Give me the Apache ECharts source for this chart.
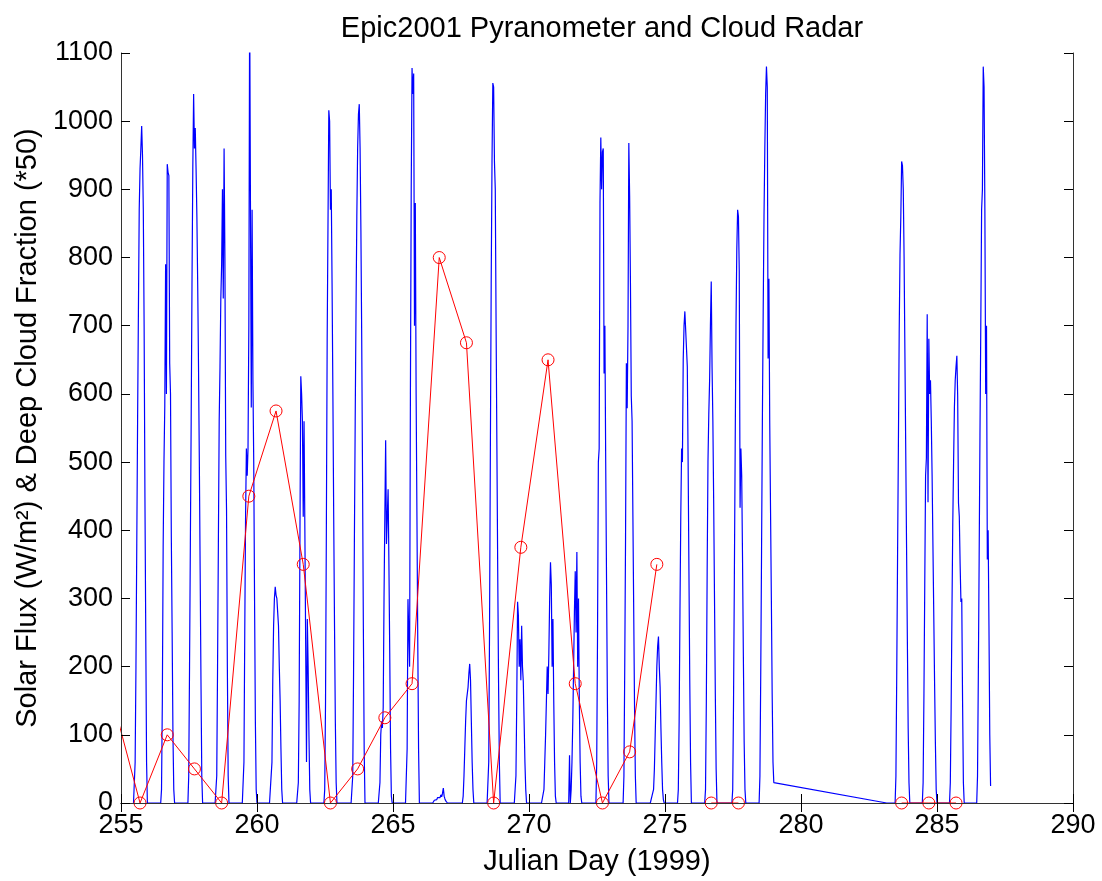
<!DOCTYPE html>
<html>
<head>
<meta charset="utf-8">
<title>Epic2001 Pyranometer and Cloud Radar</title>
<script src="https://cdn.jsdelivr.net/npm/echarts@6/dist/echarts.min.js"></script>
<style>
  html, body { margin: 0; padding: 0; background: #fff; }
  #chart { width: 1102px; height: 881px; }
</style>
</head>
<body>
<div id="chart"></div>
<script>
// axis ticks
const xTicks = [255, 260, 265, 270, 275, 280, 285, 290];
const yTicks = [0, 100, 200, 300, 400, 500, 600, 700, 800, 900, 1000, 1100];

// pyranometer: time of each sample within a day (fraction of the julian day)
const sampleOffsets = [0.46, 0.49, 0.52, 0.55, 0.58, 0.61, 0.64, 0.67, 0.70, 0.73,
  0.76, 0.79, 0.82, 0.85, 0.88, 0.91, 0.94, 0.97, 1.00];

const fluxDays = [255, 256, 257, 258, 259, 260, 261, 262, 263, 264, 265, 266, 267, 268,
  269, 270, 271, 272, 273, 274, 275, 276, 277, 278, 283, 284, 285, 286];

// solar flux W/m2, one row per day
const fluxRows = [
  [0, 0, 60, 200, 380, 560, 720, 870, 930, 960, 993, 950, 870, 700, 448, 250, 60, 0, 0],
  [0, 20, 150, 375, 500, 583, 790, 600, 937, 925, 920, 645, 600, 390, 250, 100, 20, 0, 0],
  [0, 40, 200, 380, 560, 760, 930, 1040, 960, 990, 930, 860, 760, 640, 500, 340, 180, 40, 0],
  [0, 0, 40, 200, 380, 560, 640, 740, 790, 900, 740, 960, 800, 510, 430, 200, 40, 0, 0],
  [0, 0, 60, 250, 420, 520, 480, 520, 700, 1180, 870, 580, 870, 620, 500, 300, 120, 20, 0],
  [0, 0, 0, 60, 180, 260, 300, 317, 305, 300, 280, 260, 200, 150, 80, 20, 0, 0, 0],
  [0, 0, 30, 150, 400, 626, 600, 560, 420, 560, 400, 230, 60, 270, 200, 100, 20, 0, 0],
  [0, 20, 150, 400, 680, 680, 1016, 1000, 870, 900, 760, 600, 420, 260, 120, 30, 0, 0, 0],
  [0, 0, 40, 190, 380, 560, 720, 860, 960, 1010, 1025, 960, 840, 680, 480, 260, 80, 0, 0],
  [0, 0, 30, 100, 120, 110, 140, 300, 420, 532, 380, 420, 460, 350, 220, 80, 10, 0, 0],
  [0, 0, 80, 299, 250, 200, 600, 900, 1078, 1040, 1070, 700, 880, 600, 420, 240, 80, 0, 0],
  [0, 2, 4, 3, 6, 5, 8, 6, 10, 8, 12, 9, 14, 22, 10, 6, 3, 1, 0],
  [0, 0, 0, 0, 10, 40, 80, 120, 150, 149, 170, 190, 204, 180, 120, 60, 20, 0, 0],
  [0, 0, 60, 260, 520, 760, 940, 1056, 1050, 940, 900, 700, 520, 340, 180, 60, 0, 0, 0],
  [0, 0, 40, 150, 295, 275, 200, 240, 180, 260, 200, 178, 120, 60, 20, 0, 0, 0, 0],
  [0, 0, 0, 20, 60, 100, 150, 200, 160, 220, 300, 353, 320, 200, 270, 150, 60, 10, 0],
  [0, 70, 0, 20, 60, 120, 200, 280, 340, 250, 368, 200, 300, 150, 60, 10, 0, 0, 0],
  [0, 60, 250, 500, 520, 880, 976, 900, 955, 960, 630, 700, 500, 330, 160, 40, 0, 0, 0],
  [0, 40, 200, 390, 645, 579, 700, 968, 890, 760, 597, 560, 420, 280, 140, 40, 0, 0, 0],
  [0, 0, 10, 8, 20, 50, 100, 150, 200, 230, 244, 200, 170, 110, 60, 20, 5, 0, 0],
  [0, 20, 120, 280, 420, 520, 500, 650, 700, 721, 720, 721, 640, 500, 340, 180, 60, 0, 0],
  [0, 20, 150, 340, 500, 570, 620, 700, 765, 640, 560, 440, 300, 160, 50, 0, 0, 0, 0],
  [0, 20, 150, 330, 520, 700, 812, 870, 860, 780, 433, 520, 480, 360, 220, 90, 20, 0, 0],
  [0, 40, 190, 370, 560, 720, 860, 960, 1040, 1080, 1050, 652, 769, 560, 430, 300, 160, 60, 30],
  [0, 40, 190, 360, 520, 689, 804, 860, 941, 935, 900, 800, 660, 520, 380, 240, 110, 30, 0],
  [0, 30, 160, 320, 480, 506, 717, 441, 681, 600, 620, 560, 480, 380, 280, 180, 90, 20, 0],
  [0, 30, 140, 280, 410, 500, 580, 620, 640, 656, 597, 440, 420, 350, 295, 300, 150, 30, 0],
  [0, 40, 190, 360, 540, 700, 870, 900, 1080, 1050, 870, 600, 700, 357, 400, 260, 100, 25, null]
];

// end of the data gap after day 278
const gapPoints = [[283.15, 0]];

// deep cloud fraction (*50), one value per day
const cloudDays = [254.7, 255.7, 256.7, 257.7, 258.7, 259.7, 260.7, 261.7, 262.7, 263.7,
  264.7, 265.7, 266.7, 267.7, 268.7, 269.7, 270.7, 271.7, 272.7, 273.7, 274.7, 275.7,
  276.7, 277.7, 278.7, 279.7, 280.7, 281.7, 282.7, 283.7, 284.7, 285.7];
const cloudValues = [150, 0, 100, 50, 0, 450, 575, 350, 0, 50,
  125, 175, 800, 675, 0, 375, 650, 175, 0, 75, 350, null,
  0, 0, null, null, null, null, null, 0, 0, 0];

const FONT = "'Liberation Sans', Arial, Helvetica, sans-serif";

function buildFlux() {
  const pts = [];
  fluxDays.forEach((day, i) => {
    fluxRows[i].forEach((v, k) => {
      if (v === null) return;
      pts.push([+(day + sampleOffsets[k]).toFixed(2), v]);
    });
    if (day === 278) pts.push(...gapPoints);
  });
  return pts;
}

function buildCloud() {
  return cloudDays.map((d, i) => [d, cloudValues[i] === null ? '-' : cloudValues[i]]);
}

const chart = echarts.init(document.getElementById('chart'), null, { renderer: 'canvas' });

const tickStyle = { inside: true, length: 9, lineStyle: { color: '#000', width: 1 } };
const lineStyleAxis = { show: true, lineStyle: { color: '#333', width: 1 } };

const xMin = xTicks[0], xMax = xTicks[xTicks.length - 1], xStep = xTicks[1] - xTicks[0];
const yMin = yTicks[0], yMax = yTicks[yTicks.length - 1], yStep = yTicks[1] - yTicks[0];

const option = {
  animation: false,
  backgroundColor: '#fff',
  title: {
    text: 'Epic2001 Pyranometer and Cloud Radar',
    left: 597,
    top: 9,
    textAlign: 'center',
    textStyle: { fontFamily: FONT, fontSize: 29, fontWeight: 'normal', color: '#000' }
  },
  grid: { left: 121, right: 29, top: 53, bottom: 78, outerBoundsMode: 'none' },
  xAxis: [
    {
      type: 'value', position: 'bottom', min: xMin, max: xMax, interval: xStep, z: 5,
      axisLine: lineStyleAxis, axisTick: tickStyle, splitLine: { show: false },
      axisLabel: { fontFamily: FONT, fontSize: 27, color: '#000', margin: 9,
        formatter: (v) => String(v) },
      name: 'Julian Day (1999)', nameLocation: 'middle', nameGap: 44,
      nameTextStyle: { fontFamily: FONT, fontSize: 29, color: '#000' }
    },
    {
      type: 'value', position: 'top', min: xMin, max: xMax, interval: xStep, z: 5,
      axisLine: lineStyleAxis, axisTick: tickStyle, splitLine: { show: false },
      axisLabel: { show: false }
    }
  ],
  yAxis: [
    {
      type: 'value', position: 'left', min: yMin, max: yMax, interval: yStep, z: 5,
      axisLine: lineStyleAxis, axisTick: tickStyle, splitLine: { show: false },
      axisLabel: { fontFamily: FONT, fontSize: 27, color: '#000', margin: 8,
        formatter: (v) => String(v) },
      name: 'Solar Flux (W/m²) & Deep Cloud Fraction (*50)',
      nameLocation: 'middle', nameGap: 77,
      nameTextStyle: { fontFamily: FONT, fontSize: 29, color: '#000' }
    },
    {
      type: 'value', position: 'right', min: yMin, max: yMax, interval: yStep, z: 5,
      axisLine: lineStyleAxis, axisTick: tickStyle, splitLine: { show: false },
      axisLabel: { show: false }
    }
  ],
  series: [
    {
      name: 'Solar Flux',
      type: 'line',
      data: buildFlux(),
      symbol: 'none',
      showSymbol: false,
      clip: true,
      silent: true,
      lineStyle: { color: '#0000ff', width: 1.2 },
      itemStyle: { color: '#0000ff' },
      z: 2
    },
    {
      name: 'Deep Cloud Fraction',
      type: 'line',
      data: buildCloud(),
      symbol: 'circle',
      symbolSize: 12,
      showAllSymbol: true,
      connectNulls: false,
      clip: true,
      lineStyle: { color: '#ff0000', width: 1 },
      itemStyle: { color: 'rgba(0,0,0,0)', borderColor: '#ff0000', borderWidth: 1 },
      z: 3
    }
  ]
};

chart.setOption(option);
</script>
</body>
</html>
